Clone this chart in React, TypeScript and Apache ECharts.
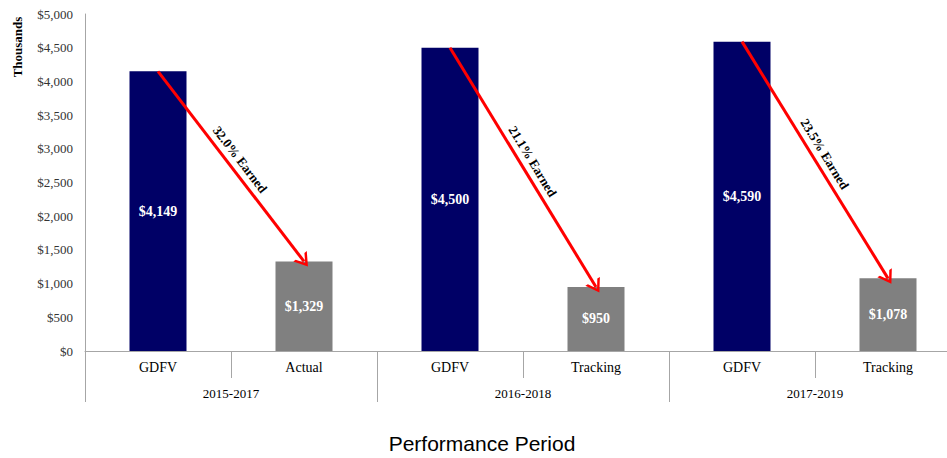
import React, { useEffect, useRef } from "react";
import * as echarts from "echarts";

const subCategories = ["GDFV", "Actual", "GDFV", "Tracking", "GDFV", "Tracking"];
const barKinds = ["gdfv", "earned", "gdfv", "earned", "gdfv", "earned"];
const barValues = [4149, 1329, 4500, 950, 4590, 1078];
const periods = ["2015-2017", "2016-2018", "2017-2019"];
const earnedLabels = ["32.0% Earned", "21.1% Earned", "23.5% Earned"];
const yTicks = { min: 0, max: 5000, interval: 500 };

const NAVY = "#000066";
const GRAY = "#808080";
const AXIS = "#a6a6a6";
const SERIF = "'Liberation Serif', 'Times New Roman', serif";

const fmtMoney = (v: number) => "$" + v.toLocaleString("en-US");

export default function App() {
  const ref = useRef<HTMLDivElement>(null);
  useEffect(() => {
    if (!ref.current) return;
    const chart = echarts.init(ref.current, null, { renderer: "svg" });

    const arrows = periods.map((_, i) => [
      {
        coord: [2 * i, barValues[2 * i]],
        label: { formatter: earnedLabels[i] },
      },
      { coord: [2 * i + 1, barValues[2 * i + 1]] },
    ]);

    chart.setOption({
      animation: false,
      grid: { left: 85, right: 0, top: 14, bottom: 107 },
      xAxis: [
        {
          type: "category",
          data: subCategories,
          position: "bottom",
          axisLine: { show: true, lineStyle: { color: AXIS, width: 1 } },
          axisTick: { show: true, interval: 0, length: 27, lineStyle: { color: AXIS } },
          axisLabel: {
            interval: 0,
            margin: 9,
            color: "#000",
            fontFamily: SERIF,
            fontSize: 14,
          },
        },
        {
          type: "category",
          data: periods,
          position: "bottom",
          axisLine: { show: false },
          axisTick: { show: true, interval: 0, length: 51, lineStyle: { color: AXIS } },
          axisLabel: {
            interval: 0,
            margin: 36,
            color: "#000",
            fontFamily: SERIF,
            fontSize: 13,
          },
        },
      ],
      yAxis: {
        type: "value",
        min: yTicks.min,
        max: yTicks.max,
        interval: yTicks.interval,
        axisLine: { show: true, lineStyle: { color: AXIS } },
        axisTick: { show: false },
        splitLine: { show: false },
        axisLabel: {
          formatter: (v: number) => fmtMoney(v),
          color: "#333",
          fontFamily: SERIF,
          fontSize: 13,
          margin: 12,
        },
      },
      series: [
        {
          type: "bar",
          xAxisIndex: 0,
          barWidth: 57,
          data: barValues.map((v, i) => ({
            value: v,
            itemStyle: { color: barKinds[i] === "gdfv" ? NAVY : GRAY },
          })),
          label: {
            show: true,
            position: "inside",
            formatter: (p: any) => fmtMoney(p.value),
            color: "#fff",
            fontFamily: SERIF,
            fontWeight: "bold",
            fontSize: 14,
          },
          markLine: {
            silent: true,
            symbol: ["none", "path://M10,0 L20,13 L16.5,13 L10,4.5 L3.5,13 L0,13 Z"],
            symbolSize: [17, 13],
            lineStyle: { color: "#ff0000", width: 3, type: "solid" },
            label: {
              show: true,
              position: "middle",
              distance: 5,
              color: "#000",
              fontFamily: SERIF,
              fontWeight: "bold",
              fontSize: 13,
            },
            data: arrows,
          },
        },
      ],
      graphic: [
        {
          type: "text",
          x: 17,
          y: 47,
          rotation: Math.PI / 2,
          style: {
            text: "Thousands",
            fontFamily: SERIF,
            fontWeight: "bold",
            fontSize: 13,
            fill: "#000",
            align: "center",
            verticalAlign: "middle",
          },
        },
        {
          type: "text",
          x: 482,
          y: 443,
          style: {
            text: "Performance Period",
            fontFamily: "'Liberation Sans', Arial, sans-serif",
            fontSize: 21,
            fill: "#000",
            align: "center",
            verticalAlign: "middle",
          },
        },
      ],
    });
    return () => chart.dispose();
  }, []);

  return (
    <div
      style={{
        position: "absolute",
        left: 0,
        top: 0,
        width: 947,
        height: 458,
        overflow: "hidden",
        background: "#fff",
      }}
    >
      <div ref={ref} style={{ width: 961, height: 458 }} />
    </div>
  );
}
